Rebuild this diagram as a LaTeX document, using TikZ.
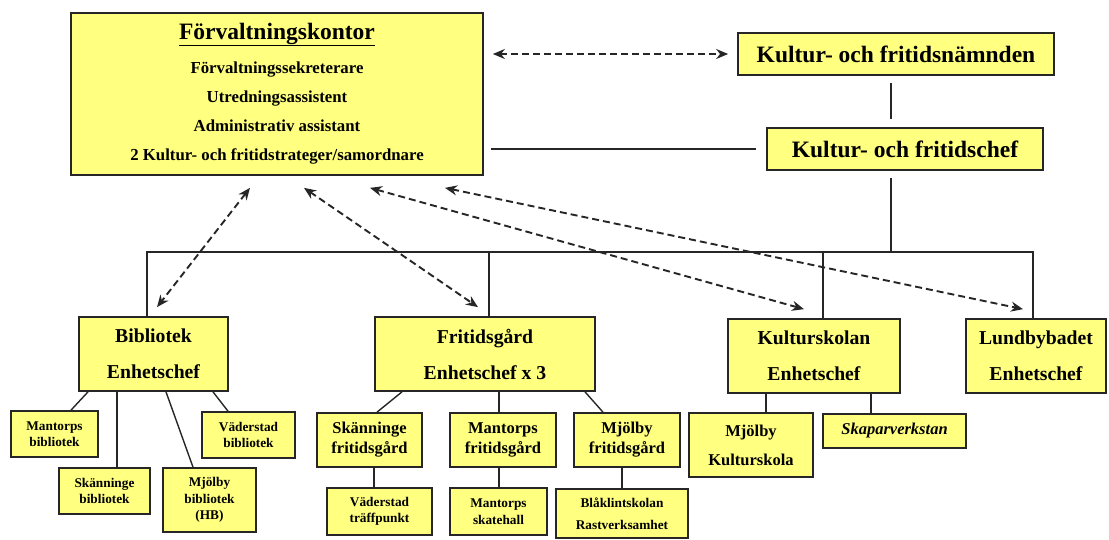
\documentclass[tikz,border=0pt]{standalone}
\usepackage{fontspec}
\setmainfont{Liberation Serif}
\usetikzlibrary{arrows.meta}
\definecolor{OrgYellow}{HTML}{FFFF80}
\definecolor{OrgLine}{HTML}{262626}
\newcommand\titleul[1]{\setbox0=\hbox{#1}\rlap{\rule[-6.5pt]{\wd0}{1.5pt}}\box0}

\begin{document}
\begin{tikzpicture}[x=1pt, y=-1pt,
    orgbox/.style={draw=OrgLine, fill=OrgYellow, line width=1.7pt, inner sep=0pt, align=center},
    unitbox/.style={orgbox, minimum height=74pt, font=\bfseries\fontsize{19.7}{36}\selectfont},
    midbox/.style={orgbox, font=\bfseries\fontsize{16.5}{20}\selectfont},
    smallbox/.style={orgbox, font=\bfseries\fontsize{13.3}{16.5}\selectfont},
    orgline/.style={draw=OrgLine, line width=1.4pt},
    dasharrow/.style={draw=OrgLine, line width=1.9pt, dash pattern=on 7pt off 4pt,
        {Stealth[length=12pt,width=10pt]}-{Stealth[length=12pt,width=10pt]}}]
    \useasboundingbox (0,0) rectangle (1109,539);

    % top level
    \node[orgbox, minimum width=412pt, minimum height=162pt,
        font=\bfseries\fontsize{16.8}{29}\selectfont] (kontor) at (277,94)
        {{\fontsize{23.5}{29}\selectfont\titleul{Förvaltningskontor}}\\[5pt]
         Förvaltningssekreterare\\ Utredningsassistent\\ Administrativ assistant\\
         2 Kultur- och fritidstrateger/samordnare};
    \node[orgbox, minimum width=316pt, minimum height=42pt,
        font=\bfseries\fontsize{23.5}{28}\selectfont] (naemnd) at (896,54) {Kultur- och fritidsnämnden};
    \node[orgbox, minimum width=276pt, minimum height=42pt,
        font=\bfseries\fontsize{23.5}{28}\selectfont] (chef) at (905,149) {Kultur- och fritidschef};
    \coordinate (bus) at (891,252);

    % units
    \node[unitbox, minimum width=149pt] (bibl) at (153.5,354) {Bibliotek\\ Enhetschef};
    \node[unitbox, minimum width=220pt] (fritid) at (485,354) {Fritidsgård\\ Enhetschef x 3};
    \node[unitbox, minimum width=172pt] (kskol) at (814,356) {Kulturskolan\\ Enhetschef};
    \node[unitbox, minimum width=140pt] (lundby) at (1036,356) {Lundbybadet\\ Enhetschef};

    % sub units
    \node[smallbox, minimum width=87pt, minimum height=46pt] (mbib) at (54.5,434) {Mantorps\\ bibliotek};
    \node[smallbox, minimum width=91pt, minimum height=46pt] (sbib) at (104.5,491) {Skänninge\\ bibliotek};
    \node[smallbox, minimum width=93pt, minimum height=64pt] (mjbib) at (209.5,500) {Mjölby\\ bibliotek\\ (HB)};
    \node[smallbox, minimum width=93pt, minimum height=46pt] (vbib) at (248.5,435) {Väderstad\\ bibliotek};
    \node[midbox, minimum width=105pt, minimum height=54pt] (sfg) at (369.5,440) {Skänninge\\ fritidsgård};
    \node[midbox, minimum width=106pt, minimum height=54pt] (mfg) at (503,440) {Mantorps\\ fritidsgård};
    \node[midbox, minimum width=106pt, minimum height=54pt] (mjfg) at (627,440) {Mjölby\\ fritidsgård};
    \node[smallbox, minimum width=105pt, minimum height=47pt] (vtp) at (379.5,511.5) {Väderstad\\ träffpunkt};
    \node[smallbox, minimum width=97pt, minimum height=47pt] (skate) at (498.5,511.5) {Mantorps\\ skatehall};
    \node[smallbox, minimum width=132pt, minimum height=49pt] (blak) at (622,513.5) {Blåklintskolan\\[6pt] Rastverksamhet};
    \node[midbox, minimum width=124pt, minimum height=64pt] (mjks) at (751,445) {Mjölby\\[9pt] Kulturskola};
    \node[midbox, minimum width=143pt, minimum height=34pt] (skap) at (894.5,431) {\itshape Skaparverkstan};

    % lines of command
    \draw[orgline] ([yshift=-7pt]naemnd.south -| bus) -- ([yshift=8pt]chef.north -| bus);
    \draw[orgline] ([xshift=7pt]kontor.east |- chef.west) -- ([xshift=-10pt]chef.west);
    \draw[orgline] ([yshift=-7pt]chef.south -| bus) -- (bus);
    \draw[orgline] ([xshift=-6.5pt]bibl.north) |- (bus) -| ([xshift=-3pt]lundby.north);
    \draw[orgline] ([xshift=4pt]fritid.north) -- ([xshift=4pt]fritid.north |- bus);
    \draw[orgline] ([xshift=9pt]kskol.north) -- ([xshift=9pt]kskol.north |- bus);

    \draw[orgline] ([xshift=-65.5pt]bibl.south) -- ([xshift=16.5pt]mbib.north);
    \draw[orgline] ([xshift=-36.5pt]bibl.south) -- ([xshift=-36.5pt]bibl.south |- sbib.north);
    \draw[orgline] ([xshift=12.5pt]bibl.south) -- ([xshift=-16.5pt]mjbib.north);
    \draw[orgline] ([xshift=59.5pt]bibl.south) -- ([xshift=-20.5pt]vbib.north);

    \draw[orgline] ([xshift=-83pt]fritid.south) -- ([xshift=7.5pt]sfg.north);
    \draw[orgline] ([xshift=14pt]fritid.south) -- ([xshift=14pt]fritid.south |- mfg.north);
    \draw[orgline] ([xshift=100pt]fritid.south) -- ([xshift=-24pt]mjfg.north);
    \draw[orgline] ([xshift=4.5pt]sfg.south) -- ([xshift=4.5pt]sfg.south |- vtp.north);
    \draw[orgline] ([xshift=-4pt]mfg.south) -- ([xshift=-4pt]mfg.south |- skate.north);
    \draw[orgline] ([xshift=-5pt]mjfg.south) -- ([xshift=-5pt]mjfg.south |- blak.north);

    \draw[orgline] ([xshift=-48pt]kskol.south) -- ([xshift=-48pt]kskol.south |- mjks.north);
    \draw[orgline] ([xshift=57pt]kskol.south) -- ([xshift=57pt]kskol.south |- skap.north);

    % contacts
    \draw[dasharrow] ([xshift=9pt]kontor.east |- naemnd.west) -- ([xshift=-9pt]naemnd.west);
    \foreach \a/\unit/\dx in {-27/bibl/3.5, 27/fritid/-7, 93/kskol/-10, 168/lundby/-13}
        \draw[dasharrow] ([xshift=\a pt, yshift=-12pt]kontor.south) -- ([xshift=\dx pt, yshift=9pt]\unit.north);
\end{tikzpicture}
\end{document}
